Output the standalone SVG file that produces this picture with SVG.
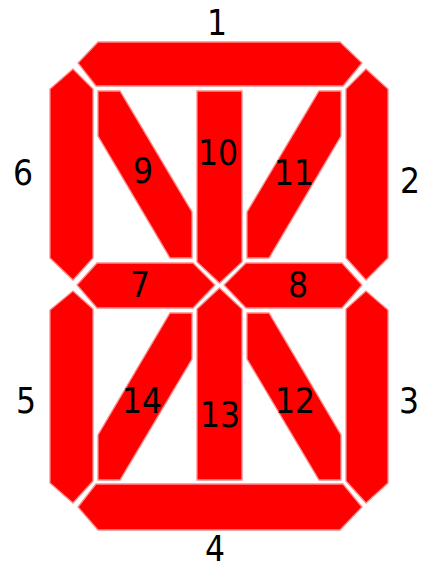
<svg xmlns="http://www.w3.org/2000/svg" width="421" height="568" viewBox="0 0 421 568">
<style>
.seg{fill:#ff0000;stroke:#ff8a8a;stroke-width:1.3;stroke-linejoin:miter}
.lbl{font-family:"DejaVu Sans Condensed","DejaVu Sans","Liberation Sans",sans-serif;font-size:35px;fill:#000;text-anchor:middle}
</style>
<rect width="421" height="568" fill="#fff"/>
<g id="seg1"><polygon class="seg" points="98,42 340,42 362,63 343,86 96,86 78,63"/></g>
<g id="seg2"><polygon class="seg" points="366,69 388,89 388,258 366,280 346,258 346,89"/></g>
<g id="seg3"><polygon class="seg" points="366,291 346,309 346,481 366,503 388,483 388,310"/></g>
<g id="seg4"><polygon class="seg" points="98,530 340,530 362,507 343,484 96,484 78,507"/></g>
<g id="seg5"><polygon class="seg" points="73,291 93,309 93,481 73,503 50,483 50,310"/></g>
<g id="seg6"><polygon class="seg" points="73,69 93,89 93,258 73,280 50,258 50,89"/></g>
<g id="seg7"><polygon class="seg" points="77,285 97,263 193,263 215,285 193,308 97,308"/></g>
<g id="seg8"><polygon class="seg" points="224,285 246,263 342,263 362,285 342,308 246,308"/></g>
<g id="seg9"><polygon class="seg" points="98,91 120,91 192,212 192,258 170,258 98,136"/></g>
<g id="seg10"><polygon class="seg" points="197,91 242,91 242,262 219.5,283 197,262"/></g>
<g id="seg11"><polygon class="seg" points="341,91 319,91 247,212 247,258 269,258 341,136"/></g>
<g id="seg12"><polygon class="seg" points="341,480 319,480 247,359 247,313 269,313 341,435"/></g>
<g id="seg13"><polygon class="seg" points="219.5,288 242,309 242,480 197,480 197,309"/></g>
<g id="seg14"><polygon class="seg" points="98,480 120,480 192,359 192,313 170,313 98,435"/></g>
<g id="labels">
<text class="lbl" x="217" y="35">1</text>
<text class="lbl" x="410" y="193">2</text>
<text class="lbl" x="409" y="413">3</text>
<text class="lbl" x="215" y="561">4</text>
<text class="lbl" x="26" y="413">5</text>
<text class="lbl" x="23" y="185">6</text>
<text class="lbl" x="140" y="297">7</text>
<text class="lbl" x="298" y="297">8</text>
<text class="lbl" x="143" y="183">9</text>
<text class="lbl" x="218" y="165">10</text>
<text class="lbl" x="294" y="185">11</text>
<text class="lbl" x="295" y="413">12</text>
<text class="lbl" x="220" y="427">13</text>
<text class="lbl" x="142" y="413">14</text>
</g>
</svg>
